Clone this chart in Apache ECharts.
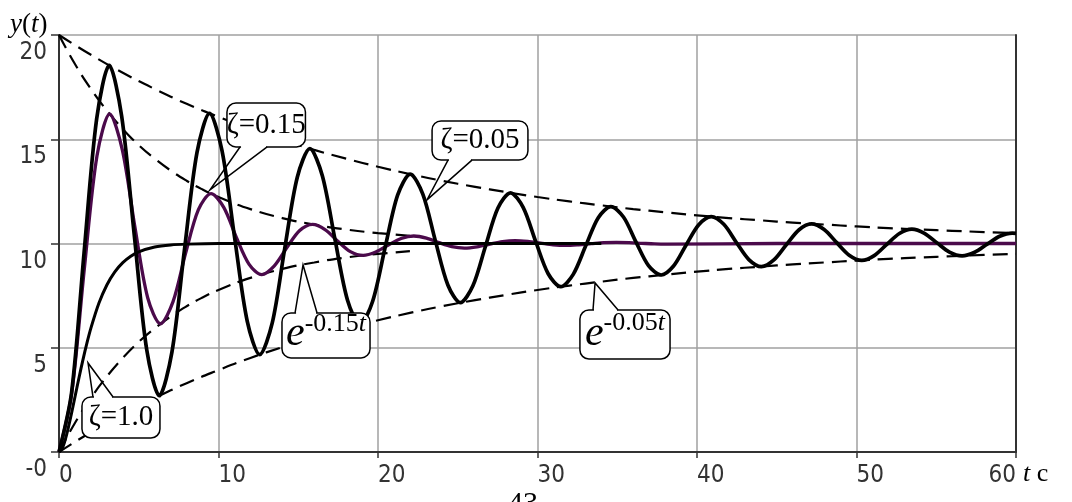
<!DOCTYPE html>
<html><head><meta charset="utf-8">
<script src="https://cdn.jsdelivr.net/npm/echarts@6/dist/echarts.min.js"></script>
<style>html,body{margin:0;padding:0;background:#fff}#c{width:1072px;height:502px}</style>
</head><body><div id="c"></div>
<script>
// ---- data ----
const xTicks = [0, 10, 20, 30, 40, 50, 60];
const yTicks = [0, 5, 10, 15, 20];

// zeta = 0.05 step response
const t005 = [0,0.79,1.57,2.36,3.15,3.93,4.72,5.50,6.29,7.08,7.86,8.65,9.44,10.22,11.01,11.80,12.58,13.37,14.15,14.94,15.73,16.51,17.30,18.09,18.87,19.66,20.45,21.23,22.02,22.81,23.59,24.38,25.16,25.95,26.74,27.52,28.31,29.10,29.88,30.67,31.46,32.24,33.03,33.81,34.60,35.39,36.17,36.96,37.75,38.53,39.32,40.11,40.89,41.68,42.46,43.25,44.04,44.82,45.61,46.40,47.18,47.97,48.76,49.54,50.33,51.11,51.90,52.69,53.47,54.26,55.05,55.83,56.62,57.41,58.19,58.98,59.77,60];
const y005 = [0,2.86,9.54,15.97,18.54,16.10,10.39,4.90,2.70,4.79,9.66,14.36,16.24,14.45,10.29,6.28,4.67,6.19,9.75,13.18,14.55,13.25,10.21,7.28,6.11,7.22,9.82,12.32,13.33,12.37,10.15,8.01,7.16,7.97,9.87,11.70,12.43,11.73,10.11,8.55,7.93,8.52,9.90,11.24,11.77,11.27,10.08,8.94,8.49,8.92,9.93,10.90,11.29,10.92,10.06,9.23,8.89,9.21,9.95,10.66,10.94,10.67,10.04,9.44,9.19,9.42,9.96,10.48,10.69,10.49,10.03,9.59,9.41,9.58,9.97,10.35,10.50,10.49];

// zeta = 0.15 step response
const t015 = [0,0.79,1.59,2.38,3.18,3.97,4.77,5.56,6.36,7.15,7.94,8.74,9.53,10.33,11.12,11.92,12.71,13.50,14.30,15.09,15.89,16.68,17.48,18.27,19.07,19.86,20.65,21.45,22.24,23.04,23.83,24.63,25.42,26.21,27.01,27.80,28.60,29.39,30.19,30.98,31.78,32.57,33.36,34.16,34.95,35.75,36.54,37.34,38.13,45,60];
const y015 = [0,2.77,8.80,14.20,16.21,14.49,10.74,7.40,6.15,7.21,9.54,11.62,12.39,11.73,10.29,9.00,8.51,8.93,9.82,10.62,10.92,10.67,10.11,9.61,9.43,9.59,9.93,10.24,10.36,10.26,10.04,9.85,9.78,9.84,9.97,10.09,10.14,10.10,10.02,9.94,9.91,9.94,9.99,10.04,10.05,10.04,10.01,9.98,9.97,10,10];

// zeta = 1.0 step response
const t100 = [0,0.25,0.5,0.75,1,1.25,1.5,1.75,2,2.5,3,3.5,4,4.5,5,6,7,8,10,34];
const y100 = [0,0.26,0.90,1.73,2.64,3.55,4.42,5.22,5.94,7.13,8.01,8.64,9.08,9.39,9.60,9.83,9.93,9.97,10,10];

// envelopes e^-0.05t
const tEnv05 = [0,2,4,6,8,10,12,14,16,18,20,22,24,26,28,30,32,34,36,38,40,42,44,46,48,50,52,54,56,58,60];
const upper05 = [20,19.05,18.19,17.41,16.70,16.07,15.49,14.97,14.49,14.07,13.68,13.33,13.01,12.73,12.47,12.23,12.02,11.83,11.65,11.50,11.35,11.22,11.11,11.00,10.91,10.82,10.74,10.67,10.61,10.55,10.50];
const lower05 = [0,0.95,1.81,2.59,3.30,3.93,4.51,5.03,5.51,5.93,6.32,6.67,6.99,7.27,7.53,7.77,7.98,8.17,8.35,8.50,8.65,8.78,8.89,9.00,9.09,9.18,9.26,9.33,9.39,9.45,9.50];

// envelopes e^-0.15t
const tEnv15 = [0,1,2,3,4,5,6,7,8,9,10,12,14,16,18,20,22];
const upper15 = [20,18.61,17.41,16.38,15.49,14.72,14.07,13.50,13.01,12.59,12.23,11.65,11.22,10.91,10.67,10.50,10.37];
const lower15 = [0,1.39,2.59,3.62,4.51,5.28,5.93,6.50,6.99,7.41,7.77,8.35,8.78,9.09,9.33,9.50,9.63];

// callout texts
const calloutTexts = ['ζ=0.15', 'ζ=0.05', '{e|e}{s|-0.15}{it|t}', '{e|e}{s|-0.05}{it|t}', 'ζ=1.0'];
</script>
<script>
// callout placement (data coordinates): box [tLeft, yTop, tRight, yBottom], base t-range, tip
const calloutLayout = [
  {box:[10.53,16.74,15.45,14.63], base:[11.35,13.05], tip:[9.47,12.57]},
  {box:[23.39,15.88,29.40,14.00], base:[24.39,25.89], tip:[23.07,12.09]},
  {box:[13.98,6.67,19.50,4.51], base:[14.80,16.18], tip:[15.30,8.97]},
  {box:[32.66,6.81,38.31,4.46], base:[33.48,35.05], tip:[33.61,8.11]},
  {box:[1.44,2.64,6.33,0.67], base:[2.13,3.39], tip:[1.82,4.27]}
];

const zip = (a, b) => a.map((v, i) => [v, b[i]]);
const SERIF = '"Liberation Serif","Times New Roman","DejaVu Serif",serif';
const SANS = '"DejaVu Sans Condensed","Liberation Sans Narrow","Liberation Sans",sans-serif';
const dash = {color:'#000', width:2.2, type:[15,8]};

const chart = echarts.init(document.getElementById('c'), null, {renderer:'canvas'});
const option = {
  animation: false,
  backgroundColor: '#fff',
  grid: {left:59, right:56, top:35, bottom:50, containLabel:false},
  xAxis: {
    type:'value', min:0, max:60, interval:10,
    axisLine:{show:true, onZero:false, lineStyle:{color:'#333', width:2}},
    axisTick:{show:true, length:6, lineStyle:{color:'#333', width:1.5}},
    splitLine:{show:true, lineStyle:{color:'#a0a0a0', width:1.5}},
    axisLabel:{show:true, margin:12, align:'left', alignMaxLabel:'right', fontFamily:SANS, fontSize:24, color:'#333',
      formatter: v => xTicks.includes(v) ? String(v) : ''}
  },
  yAxis: [{
    type:'value', min:0, max:20, interval:5,
    axisLine:{show:true, onZero:false, lineStyle:{color:'#333', width:2}},
    axisTick:{show:true, length:8, lineStyle:{color:'#333', width:1.5}},
    splitLine:{show:true, lineStyle:{color:'#a0a0a0', width:1.5}},
    axisLabel:{show:true, margin:12, verticalAlign:'top', padding:[6,0,0,0], fontFamily:SANS, fontSize:24, color:'#333',
      formatter: v => yTicks.includes(v) ? (v === 0 ? '-0' : String(v)) : ''}
  }, {
    type:'value', min:0, max:20, interval:5, position:'right',
    axisLine:{show:true, onZero:false, lineStyle:{color:'#333', width:2}},
    axisTick:{show:false}, axisLabel:{show:false}, splitLine:{show:false}
  }],
  series: [
    {type:'line', data:zip(tEnv05, upper05), smooth:true, symbol:'none', lineStyle:dash, z:2},
    {type:'line', data:zip(tEnv05, lower05), smooth:true, symbol:'none', lineStyle:dash, z:2},
    {type:'line', data:zip(tEnv15, upper15), smooth:true, symbol:'none', lineStyle:dash, z:2},
    {type:'line', data:zip(tEnv15, lower15), smooth:true, symbol:'none', lineStyle:dash, z:2},
    {type:'line', data:zip(t015, y015), smooth:0.3, symbol:'none', lineStyle:{color:'#4B0A4B', width:3.3}, z:3},
    {type:'line', data:zip(t005, y005), smooth:0.3, symbol:'none', lineStyle:{color:'#000', width:3.7}, z:4},
    {type:'line', data:zip(t100, y100), smooth:0.3, symbol:'none', lineStyle:{color:'#000', width:3}, z:5}
  ]
};
chart.setOption(option);

function px(p) { return chart.convertToPixel({gridIndex:0}, p); }
const els = [];
const richStyles = {
  e: {fontFamily:SERIF, fontStyle:'italic', fontSize:42, lineHeight:44, verticalAlign:'bottom', color:'#000'},
  s: {fontFamily:SERIF, fontSize:26, lineHeight:34, verticalAlign:'top', color:'#000'},
  it: {fontFamily:SERIF, fontStyle:'italic', fontSize:26, lineHeight:34, verticalAlign:'top', color:'#000'}
};
calloutLayout.forEach((c, i) => {
  const a = px([c.box[0], c.box[1]]), b = px([c.box[2], c.box[3]]);
  const x0 = a[0], y0 = a[1], x1 = b[0], y1 = b[1];
  const tip = px(c.tip);
  const below = tip[1] > y1;
  const ey = below ? y1 : y0;
  const b0 = px([c.base[0], 0])[0], b1 = px([c.base[1], 0])[0];
  els.push({type:'rect', z:100, shape:{x:x0, y:y0, width:x1-x0, height:y1-y0, r:9},
    style:{fill:'#fff', stroke:'#000', lineWidth:1.5}});
  els.push({type:'line', z:101, shape:{x1:b0+1, y1:ey, x2:b1-1, y2:ey}, style:{stroke:'#fff', lineWidth:3}});
  els.push({type:'polyline', z:102, shape:{points:[[b0, ey], tip, [b1, ey]]}, style:{stroke:'#000', lineWidth:1.5, fill:null}});
  const txt = calloutTexts[i];
  els.push({type:'text', z:103, x:(x0+x1)/2, y:(y0+y1)/2 + (txt.startsWith('{') ? -2 : 0),
    style:{text:txt, align:'center', verticalAlign:'middle', fontFamily:SERIF, fontSize:29, fill:'#000', rich:richStyles}});
});
// axis titles and page text
els.push({type:'text', z:103, x:10, y:25, style:{text:'{i|y}{r|(}{i|t}{r|)}', align:'left', verticalAlign:'middle',
  rich:{i:{fontFamily:SERIF, fontStyle:'italic', fontSize:27, color:'#000'}, r:{fontFamily:SERIF, fontSize:27, color:'#000'}}}});
els.push({type:'text', z:103, x:1023, y:474, style:{text:'{i|t}{r| c}', align:'left', verticalAlign:'middle',
  rich:{i:{fontFamily:SERIF, fontStyle:'italic', fontSize:26, color:'#000'}, r:{fontFamily:SERIF, fontSize:26, color:'#000'}}}});
els.push({type:'text', z:103, x:523, y:504, style:{text:'43', align:'center', verticalAlign:'middle', fontFamily:SERIF, fontSize:30, fill:'#000'}});
chart.setOption({graphic:{elements:els}});
</script>
</body></html>
